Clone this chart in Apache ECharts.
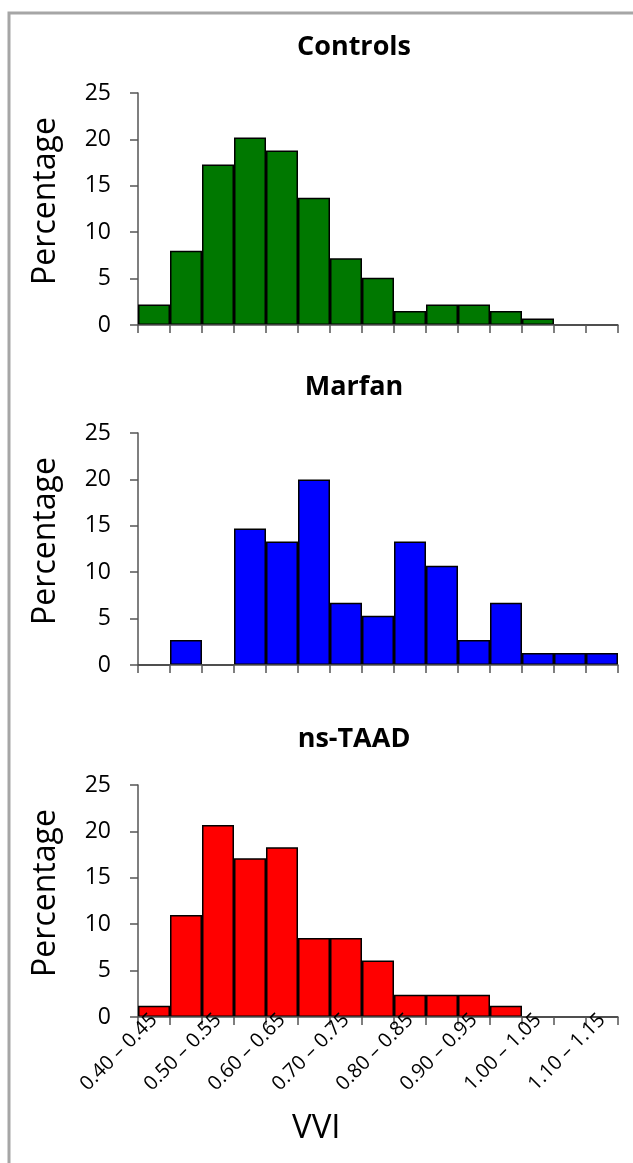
<!DOCTYPE html>
<html>
<head>
<meta charset="utf-8">
<script src="https://cdn.jsdelivr.net/npm/echarts@6/dist/echarts.min.js"></script>
<style>
  html, body { margin: 0; padding: 0; background: #fff; }
  #chart { width: 633px; height: 1163px; }
</style>
</head>
<body>
<div id="chart"></div>
<script>
// VVI bins (0.05 wide, 0.40 to 1.15)
const bins = ['0.40 – 0.45', '0.45 – 0.50', '0.50 – 0.55', '0.55 – 0.60', '0.60 – 0.65',
  '0.65 – 0.70', '0.70 – 0.75', '0.75 – 0.80', '0.80 – 0.85', '0.85 – 0.90',
  '0.90 – 0.95', '0.95 – 1.00', '1.00 – 1.05', '1.05 – 1.10', '1.10 – 1.15'];

// Percentage of subjects per bin
const controls = [2.2, 8.0, 17.3, 20.2, 18.8, 13.7, 7.2, 5.1, 1.5, 2.2, 2.2, 1.5, 0.7, 0, 0];
const marfan   = [0, 2.7, 0, 14.7, 13.3, 20.0, 6.7, 5.3, 13.3, 10.7, 2.7, 6.7, 1.3, 1.3, 1.3];
const nsTaad   = [1.2, 11.0, 20.7, 17.1, 18.3, 8.5, 8.5, 6.1, 2.4, 2.4, 2.4, 1.2, 0, 0, 0];

const groups = ['Controls', 'Marfan', 'ns-TAAD'];
const seriesData = [controls, marfan, nsTaad];
const colors = ['#007800', '#0000ff', '#ff0000'];
const yTicks = { min: 0, max: 25, interval: 5 };

const FONT = 'Open Sans';
const gridTops = [93, 433, 785];
const plotH = 232;

const chart = echarts.init(document.getElementById('chart'), null, { renderer: 'canvas' });

const option = {
  backgroundColor: '#fff',
  animation: false,
  title: groups.map((g, i) => ({
    text: g,
    left: 349,
    top: gridTops[i] - 64,
    textAlign: 'center',
    textStyle: { fontFamily: FONT, fontWeight: 'bold', fontSize: 27, color: '#000' }
  })),
  grid: gridTops.map(t => ({ left: 138, right: 15, top: t, height: plotH, containLabel: false })),
  xAxis: groups.map((g, i) => ({
    type: 'category',
    gridIndex: i,
    data: bins,
    boundaryGap: true,
    z: 10,
    axisLine: { lineStyle: { color: '#555', width: 1.5 } },
    axisTick: { show: true, length: 8, alignWithLabel: false, interval: 0, lineStyle: { color: '#555', width: 1.5 } },
    axisLabel: i === 2 ? {
      show: true, interval: 1, rotate: 45, margin: 0,
      padding: [22, 0, 0, 0],
      fontFamily: FONT, fontSize: 20, color: '#000'
    } : { show: false },
    splitLine: { show: false }
  })),
  yAxis: groups.map((g, i) => ({
    type: 'value',
    gridIndex: i,
    min: yTicks.min, max: yTicks.max, interval: yTicks.interval,
    name: 'Percentage',
    nameLocation: 'middle',
    nameGap: 76,
    nameTextStyle: { fontFamily: FONT, fontSize: 32, color: '#000', padding: [0, 0, 0, 16] },
    axisLine: { show: true, lineStyle: { color: '#555', width: 1.5 } },
    axisTick: { show: true, length: 8, lineStyle: { color: '#555', width: 1.5 } },
    axisLabel: { fontFamily: FONT, fontSize: 23, color: '#000', margin: 27 },
    splitLine: { show: false }
  })),
  series: groups.map((g, i) => ({
    type: 'bar',
    name: g,
    xAxisIndex: i,
    yAxisIndex: i,
    data: seriesData[i],
    barWidth: '100%',
    barGap: '0%',
    z: 2,
    itemStyle: { color: colors[i], borderColor: '#000', borderWidth: 1.5 }
  })),
  graphic: [
    {
      type: 'polyline',
      shape: { points: [[9, 1163], [9, 13], [633, 13]] },
      style: { stroke: '#a6a6a6', lineWidth: 3, fill: null }
    },
    {
      type: 'text',
      left: 292, top: 1112,
      style: { text: 'VVI', fontFamily: FONT, fontSize: 33, fill: '#000' }
    }
  ]
};

chart.setOption(option);
</script>
</body>
</html>
